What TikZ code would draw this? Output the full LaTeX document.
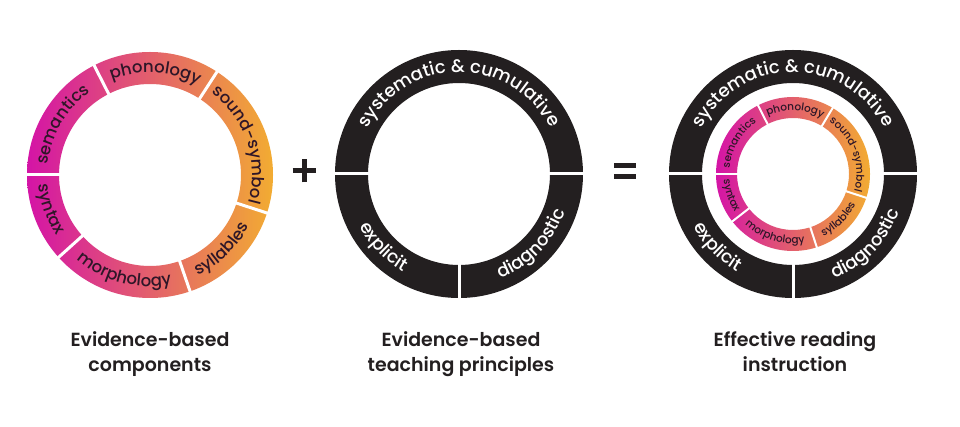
\documentclass[tikz,border=0pt]{standalone}
\usepackage{fontspec}
\setmainfont{Poppins}
\newfontfamily\labelfont{Poppins SemiBold}
\newfontfamily\ringfont{Poppins Medium}
\usetikzlibrary{decorations.text}
\definecolor{ringblack}{HTML}{231F20}
\definecolor{gmag}{HTML}{D414A6}
\definecolor{gmid}{HTML}{E0527D}
\definecolor{gorg}{HTML}{F2AC32}
\definecolor{ringtext}{HTML}{2E1628}
\definecolor{labeltext}{HTML}{231F20}
\newcommand\ringL{\ringfont\fontsize{16.5}{18}\selectfont}
\newcommand\ringM{\ringfont\fontsize{18}{20}\selectfont}
\newcommand\ringS{\ringfont\fontsize{10.5}{12}\selectfont}
\newcommand\arcTextCW[6]{\path[shift={(#1)},decorate,decoration={text along path,text align=center,text={|#4\color{#5}|#6}}] (#2+85:#3) arc[start angle=#2+85,end angle=#2-85,radius=#3];}
\newcommand\arcTextCCW[6]{\path[shift={(#1)},decorate,decoration={text along path,text align=center,text={|#4\color{#5}|#6}}] (#2-85:#3) arc[start angle=#2-85,end angle=#2+85,radius=#3];}
\tikzset{
  gapline/.style={white,line width=3pt},
  gapsmall/.style={white,line width=2pt},
  gradring/.style={even odd rule,left color=gmag,middle color=gmid,right color=gorg},
  blackring/.style={ringblack,even odd rule},
  lbl/.style={font=\labelfont\fontsize{19}{22}\selectfont,text=labeltext,inner sep=0pt,anchor=base},
  opbar/.style={labeltext,line width=5pt}
}
\begin{document}
\begin{tikzpicture}[x=1pt,y=1pt]
\useasboundingbox (0,0) rectangle (960,-427);
\fill[white] (0,0) rectangle (960,-427);
\coordinate (L) at (150,-175);
\coordinate (M) at (459,-174);
\coordinate (R) at (793,-174);

% ---- left ring
\shade[gradring,shift={(L)}] (0,0) circle[radius=123] (0,0) circle[radius=91];
\foreach \a in {180,117,57,-18,-71,-138} \draw[gapline,shift={(L)}] (\a:88) -- (\a:126);
\arcTextCW{L}{150}{102.5}{\ringL}{ringtext}{semantics}
\arcTextCW{L}{87}{102.5}{\ringL}{ringtext}{phonology}
\arcTextCW{L}{19}{102.5}{\ringL}{ringtext}{sound-symbol}
\arcTextCCW{L}{-46}{111.5}{\ringL}{ringtext}{syllables}
\arcTextCCW{L}{-105}{111.5}{\ringL}{ringtext}{morphology}
\arcTextCCW{L}{-161}{111.5}{\ringL}{ringtext}{syntax}

% ---- plus
\coordinate (P) at (304,-171);
\draw[opbar,shift={(P)}] (-11.5,0) -- (11.5,0);
\draw[opbar,shift={(P)}] (0,-11.5) -- (0,11.5);

% ---- middle ring
\fill[blackring,shift={(M)}] (0,0) circle[radius=124] (0,0) circle[radius=91];
\foreach \a in {0,180,-90} \draw[gapline,shift={(M)}] (\a:88) -- (\a:127);
\arcTextCW{M}{90}{102}{\ringM}{white}{systematic {\&} cumulative}
\arcTextCCW{M}{-136}{112.5}{\ringM}{white}{explicit}
\arcTextCCW{M}{-44}{112.5}{\ringM}{white}{diagnostic}

% ---- equals
\coordinate (E) at (625,-171);
\draw[opbar,line width=4.5pt,shift={(E)}] (-11,5.5) -- (11,5.5);
\draw[opbar,line width=4.5pt,shift={(E)}] (-11,-5.5) -- (11,-5.5);

% ---- right ring
\fill[blackring,shift={(R)}] (0,0) circle[radius=124] (0,0) circle[radius=91];
\foreach \a in {0,180,-90} \draw[gapline,shift={(R)}] (\a:88) -- (\a:127);
\arcTextCW{R}{90}{102}{\ringM}{white}{systematic {\&} cumulative}
\arcTextCCW{R}{-136}{112.5}{\ringM}{white}{explicit}
\arcTextCCW{R}{-44}{112.5}{\ringM}{white}{diagnostic}
\shade[gradring,shift={(R)}] (0,0) circle[radius=77] (0,0) circle[radius=56];
\foreach \a in {180,117,59,-18,-72,-142} \draw[gapsmall,shift={(R)}] (\a:54) -- (\a:79);
\arcTextCW{R}{150}{63.5}{\ringS}{ringtext}{semantics}
\arcTextCW{R}{88}{63.5}{\ringS}{ringtext}{phonology}
\arcTextCW{R}{20}{63.5}{\ringS}{ringtext}{sound-symbol}
\arcTextCCW{R}{-45}{69.5}{\ringS}{ringtext}{syllables}
\arcTextCCW{R}{-107}{69.5}{\ringS}{ringtext}{morphology}
\arcTextCCW{R}{-161}{69.5}{\ringS}{ringtext}{syntax}

% ---- labels
\node[lbl] (l1a) at (150,-346) {Evidence-based};
\node[lbl] (l1b) at (150,-371) {components};
\node[lbl] (l2a) at (461,-346) {Evidence-based};
\node[lbl] (l2b) at (461,-371) {teaching principles};
\node[lbl] (l3a) at (795,-346) {Effective reading};
\node[lbl] (l3b) at (795,-371) {instruction};
\end{tikzpicture}
\end{document}
